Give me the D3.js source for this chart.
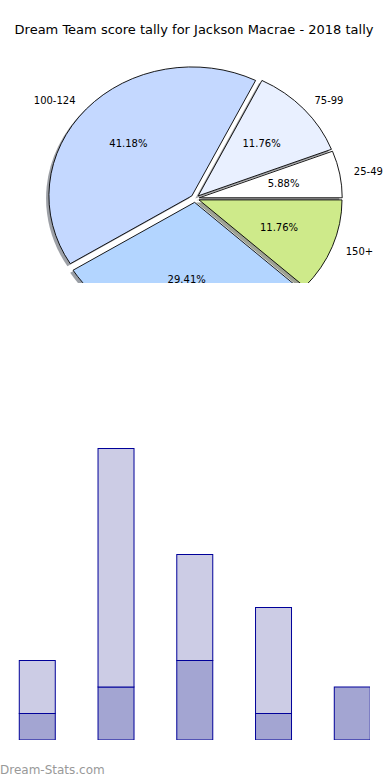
<!DOCTYPE html>
<html><head><meta charset="utf-8">
<script src="https://cdn.jsdelivr.net/npm/d3@7"></script>
<style>body{margin:0;background:#fff}svg{display:block}</style>
</head><body>
<script>
// ---- data ----
const title = "Dream Team score tally for Jackson Macrae - 2018 tally";
const pieCategories = ["25-49", "75-99", "100-124", "125-149", "150+"];
const pieCounts = [1, 2, 7, 5, 2];
const pieColors = ["#ffffff", "#e9f0ff", "#c4d8ff", "#b3d5ff", "#ceea8a"];
const barCategories = ["1", "2", "3", "4", "5"];
const barLower = [1, 2, 3, 1, 2];
const barUpper = [2, 9, 4, 4, 0];
const barColors = ["#a3a5d2", "#cccce5"];
const footer = "Dream-Stats.com";

const W = 390, H = 780;
const svg = d3.select("body").append("svg").attr("width", W).attr("height", H);
const defs = svg.append("defs");
defs.append("clipPath").attr("id", "pieClip").append("rect").attr("x", 0).attr("y", 0).attr("width", W).attr("height", 283);
defs.append("clipPath").attr("id", "barClip").append("rect").attr("x", 0).attr("y", 300).attr("width", 370).attr("height", 440);

svg.append("text").attr("x", 194).attr("y", 34).attr("text-anchor", "middle")
  .attr("font-family", "DejaVu Sans").attr("font-size", 13).attr("fill", "#000").text(title);

// ---- pie ----
const cx = 195, cy = 198.5, Rx = 143, Ry = 129, explode = 0.03;
const total = d3.sum(pieCounts);
const pie = d3.pie().sort(null).startAngle(Math.PI / 2).endAngle(Math.PI / 2 - 2 * Math.PI);
const arcs = pie(pieCounts);
const arc = d3.arc().innerRadius(0).outerRadius(1);
const pg = svg.append("g").attr("clip-path", "url(#pieClip)");
const dir = a => [Math.sin(a), -Math.cos(a)];
arcs.forEach((d, i) => {
  const m = (d.startAngle + d.endAngle) / 2;
  const [ux, uy] = dir(m);
  const ox = cx + explode * Rx * ux, oy = cy + explode * Ry * uy;
  const c = d3.rgb(pieColors[i]);
  pg.append("path").attr("d", arc(d))
    .attr("transform", `translate(${ox - 0.02 * Rx},${oy + 0.02 * Ry}) scale(${Rx},${Ry})`)
    .attr("fill", d3.rgb(c.r * 0.3, c.g * 0.3, c.b * 0.3)).attr("fill-opacity", 0.5);
  pg.append("path").attr("d", arc(d))
    .attr("transform", `translate(${ox},${oy}) scale(${Rx},${Ry})`)
    .attr("fill", pieColors[i]).attr("stroke", "#000").attr("stroke-width", 0.9)
    .attr("vector-effect", "non-scaling-stroke");
});
arcs.forEach((d, i) => {
  const m = (d.startAngle + d.endAngle) / 2;
  const [ux, uy] = dir(m);
  const ox = cx + explode * Rx * ux, oy = cy + explode * Ry * uy;
  pg.append("text").attr("x", ox + 1.1 * Rx * ux).attr("y", oy + 1.1 * Ry * uy)
    .attr("text-anchor", ux > 0 ? "start" : "end").attr("dominant-baseline", "central")
    .attr("font-family", "DejaVu Sans").attr("font-size", 10).text(pieCategories[i]);
  pg.append("text").attr("x", ox + 0.6 * Rx * ux).attr("y", oy + 0.6 * Ry * uy)
    .attr("text-anchor", "middle").attr("dominant-baseline", "central")
    .attr("font-family", "DejaVu Sans").attr("font-size", 10)
    .text((100 * d.data / total).toFixed(2) + "%");
});

// ---- bars ----
const step = 78.75;
const x = d3.scaleBand().domain(barCategories).range([-2.1, -2.1 + 5 * step]).paddingInner(0.543).paddingOuter(0.2715);
const y = d3.scaleLinear().domain([0, 11]).range([740, 448.5]);
const rows = barCategories.map((c, i) => ({cat: c, lower: barLower[i], upper: barUpper[i]}));
const series = d3.stack().keys(["lower", "upper"])(rows);
const bg = svg.append("g").attr("clip-path", "url(#barClip)");
series.forEach((s, si) => {
  bg.selectAll(null).data(s.filter(d => d[1] > d[0])).join("rect")
    .attr("x", d => x(d.data.cat)).attr("width", x.bandwidth())
    .attr("y", d => y(d[1])).attr("height", d => y(d[0]) - y(d[1]))
    .attr("fill", barColors[si]).attr("stroke", "#000099").attr("stroke-width", 1);
});

svg.append("text").attr("x", 0).attr("y", 774).attr("font-family", "DejaVu Sans")
  .attr("font-size", 12).attr("fill", "#999").text(footer);
</script>
</body></html>
